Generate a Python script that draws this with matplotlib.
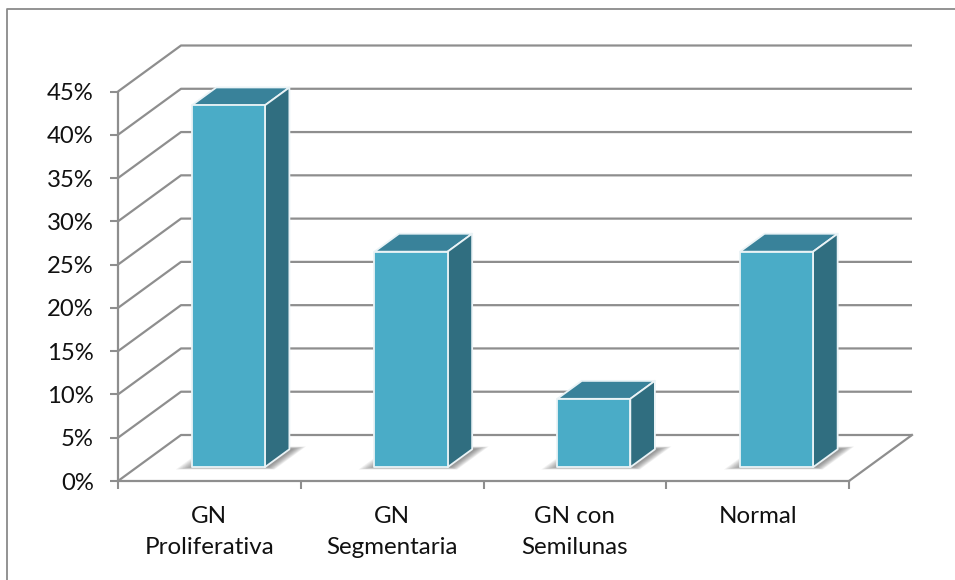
import matplotlib
matplotlib.use("Agg")
import matplotlib.pyplot as plt
from matplotlib.patches import Polygon

categories = ["GN\nProliferativa", "GN\nSegmentaria", "GN con\nSemilunas", "Normal"]
values = [41.8, 24.9, 7.9, 24.9]
y_ticks = [0, 5, 10, 15, 20, 25, 30, 35, 40, 45]
y_labels = ["0%", "5%", "10%", "15%", "20%", "25%", "30%", "35%", "40%", "45%"]

W, H = 955, 580
GRID = "#8e8e8e"
FRONT = "#4aacc7"
TOP = "#39829a"
SIDE = "#306e80"
TEXT = "#111111"

# oblique projection: depth 0..1 shifts a point right and up
DEPTH_X = 63 / (731 / 4)
DEPTH_Y = 46 / (389.5 / 45)


def proj(x, y, d=0.0):
    return (x + d * DEPTH_X, y + d * DEPTH_Y)


plt.rcParams["font.family"] = ["Lato", "DejaVu Sans"]
fig = plt.figure(figsize=(W / 100, H / 100), dpi=100, facecolor="white")
ax = fig.add_axes([118 / W, 1 - 481 / H, 731 / W, 389.5 / H])
ax.set_xlim(0, 4)
ax.set_ylim(0, 45)
ax.patch.set_visible(False)

# chart frame, cut off by the right and bottom edges of the image
fig.add_artist(plt.Line2D([6.7 / W, 6.7 / W, 1], [0, 1 - 8.7 / H, 1 - 8.7 / H],
                          color="#8a8a8a", lw=1.3))

# back and side walls
for v in y_ticks:
    xs, ys = zip(proj(0, v), proj(0, v, 1), proj(4, v, 1))
    ax.plot(xs, ys, color=GRID, lw=1.6, clip_on=False, zorder=1, solid_capstyle="butt")
xs, ys = zip(proj(4, 0), proj(4, 0, 1))
ax.plot(xs, ys, color=GRID, lw=1.6, clip_on=False, zorder=1)

# axes
for s in ("top", "right"):
    ax.spines[s].set_visible(False)
for s in ("left", "bottom"):
    ax.spines[s].set_color(GRID)
    ax.spines[s].set_linewidth(1.6)
    ax.spines[s].set_zorder(2)
ax.set_yticks(y_ticks, y_labels, fontsize=17.2, color=TEXT)
ax.set_xticks([0, 1, 2, 3, 4], [""] * 5)
ax.tick_params(axis="both", color=GRID, width=1.5, length=6)
ax.tick_params(axis="y", pad=11.5)
for i, label in enumerate(categories):
    ax.annotate(label, (i + 0.5, 0), xytext=(0, -18), textcoords="offset points",
                ha="center", va="top", fontsize=17.4, color=TEXT,
                linespacing=1.6, annotation_clip=False)

# bars
half = 0.2
d0, d1 = 0.3, 0.69
LAYERS = 10
for i, v in enumerate(values):
    l, r = i + 0.5 - half, i + 0.5 + half

    # soft floor shadow, built from stacked translucent layers
    for k in range(LAYERS):
        t = k / (LAYERS - 1)
        sl, sr = l - 0.07 * t, r + 0.02 + 0.05 * t
        df, db = d0 - 0.05 * t, d1 + 0.01 + 0.05 * t
        shadow = [proj(sl, 0, df), proj(sr, 0, df), proj(sr, 0, db), proj(sl, 0, db)]
        ax.add_patch(Polygon(shadow, closed=True, fc="#444444", ec="none", alpha=0.07,
                             clip_on=False, zorder=3))

    top = [proj(l, v, d0), proj(r, v, d0), proj(r, v, d1), proj(l, v, d1)]
    side = [proj(r, 0, d0), proj(r, 0, d1), proj(r, v, d1), proj(r, v, d0)]
    front = [proj(l, 0, d0), proj(r, 0, d0), proj(r, v, d0), proj(l, v, d0)]
    for pts, col in ((top, TOP), (side, SIDE), (front, FRONT)):
        ax.add_patch(Polygon(pts, closed=True, fc=col, ec="#eaf3f6", lw=1.3,
                             joinstyle="round", clip_on=False, zorder=4))

fig.savefig("out.png", dpi=100)
